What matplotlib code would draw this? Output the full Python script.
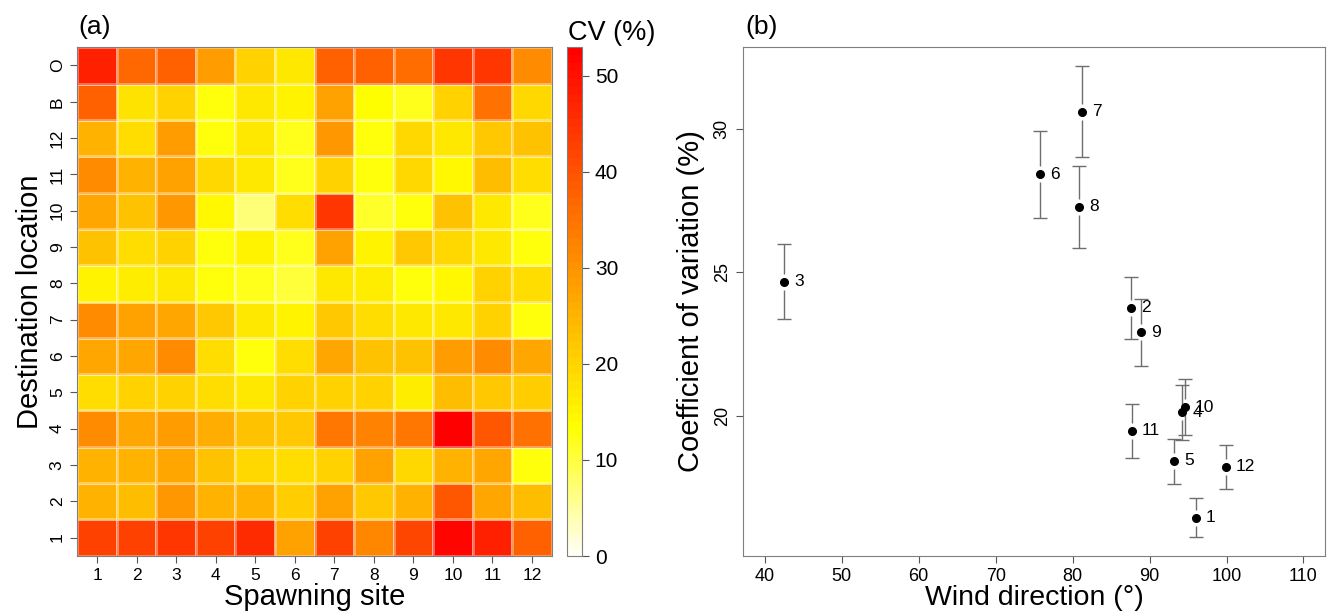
import numpy as np
import matplotlib
matplotlib.use("Agg")
import matplotlib.pyplot as plt
from matplotlib.colors import LinearSegmentedColormap

plt.rcParams['font.family'] = ['Liberation Sans', 'DejaVu Sans']

# ---------------- Panel (a) data ----------------
spawning_sites = ['1', '2', '3', '4', '5', '6', '7', '8', '9', '10', '11', '12']
destinations = ['1', '2', '3', '4', '5', '6', '7', '8', '9', '10', '11', '12', 'B', 'O']  # bottom -> top

cv_1  = [43.0, 42.4, 44.0, 43.0, 46.0, 28.0, 42.4, 31.8, 41.8, 52.0, 48.0, 38.0]
cv_2  = [25.5, 23.7, 29.3, 24.9, 25.5, 21.0, 28.0, 21.8, 25.5, 39.0, 26.8, 23.7]
cv_3  = [25.5, 24.9, 26.8, 22.4, 19.3, 18.7, 19.9, 28.0, 19.3, 25.5, 26.5, 13.0]
cv_4  = [31.2, 26.5, 28.7, 25.9, 22.4, 21.8, 34.3, 32.4, 34.3, 52.5, 39.0, 35.5]
cv_5  = [19.0, 19.9, 20.5, 18.4, 16.8, 19.9, 19.9, 19.9, 16.2, 23.7, 21.8, 21.0]
cv_6  = [26.8, 26.5, 31.2, 18.7, 13.0, 19.0, 26.8, 22.4, 22.4, 28.4, 31.2, 26.5]
cv_7  = [31.2, 28.0, 26.5, 21.8, 16.8, 15.0, 21.8, 18.7, 16.8, 16.8, 19.9, 13.0]
cv_8  = [15.0, 16.5, 17.0, 12.5, 12.0, 10.0, 16.8, 16.5, 13.0, 14.3, 19.9, 18.7]
cv_9  = [23.0, 18.7, 19.9, 13.0, 15.0, 12.0, 28.0, 15.0, 21.8, 19.3, 16.8, 12.5]
cv_10 = [26.8, 22.4, 29.3, 14.3, 7.4, 18.7, 44.0, 10.8, 13.0, 23.0, 16.8, 12.0]
cv_11 = [31.2, 25.5, 28.0, 19.3, 17.1, 12.0, 20.5, 13.0, 19.3, 14.3, 23.7, 19.0]
cv_12 = [25.5, 19.0, 28.4, 13.0, 17.1, 12.0, 29.3, 13.0, 19.3, 16.8, 21.8, 23.0]
cv_B  = [37.4, 17.4, 19.9, 12.5, 16.8, 15.6, 28.0, 13.3, 12.0, 20.5, 34.9, 19.3]
cv_O  = [48.0, 36.5, 37.4, 28.4, 19.9, 17.2, 37.4, 37.4, 35.9, 44.0, 44.7, 31.2]

cbar_ticks = [0, 10, 20, 30, 40, 50]
cv_max = 53.0

# ---------------- Panel (b) data ----------------
site_labels = ['1', '2', '3', '4', '5', '6', '7', '8', '9', '10', '11', '12']
wind_dir = [96.05, 87.58, 42.5, 94.27, 93.2, 75.75, 81.2, 80.85, 88.92, 94.62, 87.71, 99.93]
cv_mean  = [16.45, 23.77, 24.67, 20.12, 18.44, 28.42, 30.60, 27.29, 22.92, 20.30, 19.48, 18.22]
cv_upper = [17.13, 24.83, 25.99, 21.07, 19.19, 29.93, 32.19, 28.71, 24.07, 21.27, 20.42, 19.00]
cv_lower = [15.79, 22.69, 23.37, 19.17, 17.63, 26.90, 29.03, 25.86, 21.74, 19.33, 18.55, 17.44]
x_ticks = [40, 50, 60, 70, 80, 90, 100, 110]
y_ticks = [20, 25, 30]

# ---------------- figure ----------------
W, H = 1327, 615
fig = plt.figure(figsize=(W / 100, H / 100), dpi=100)

def fax(l, t, r, b):
    return fig.add_axes([l / W, 1 - b / H, (r - l) / W, (b - t) / H])

cmap = LinearSegmentedColormap.from_list(
    'heat_r', [(0.0, '#FFFFF2'), (0.25, '#FFFF00'), (1.0, '#FF0000')], N=64)

frame_col = '#7f7f7f'
tick_col = '#555555'

# Panel (a)
ax1 = fax(77.3, 47.3, 551.7, 555.7)
Z = np.array([cv_1, cv_2, cv_3, cv_4, cv_5, cv_6, cv_7, cv_8, cv_9, cv_10, cv_11, cv_12, cv_B, cv_O])
mesh = ax1.pcolormesh(np.arange(len(spawning_sites) + 1), np.arange(len(destinations) + 1), Z,
                      cmap=cmap, vmin=0, vmax=cv_max,
                      edgecolors=(1, 1, 1, 0.35), linewidth=0.8)
ax1.set_xlim(0, len(spawning_sites))
ax1.set_ylim(0, len(destinations))
ax1.set_xticks(np.arange(len(spawning_sites)) + 0.5)
ax1.set_xticklabels(spawning_sites, fontsize=12.5)
ax1.set_yticks(np.arange(len(destinations)) + 0.5)
ax1.set_yticklabels(destinations, fontsize=12.5, rotation=90, va='center')
ax1.tick_params(direction='out', length=5, color=tick_col, pad=4)
for s in ax1.spines.values():
    s.set_color(frame_col)
ax1.set_xlabel('Spawning site', fontsize=21, labelpad=0)
ax1.set_ylabel('Destination location', fontsize=21, labelpad=4)
fig.text(78 / W, 1 - 27 / H, '(a)', fontsize=19, ha='left', va='center')

# colorbar
cax = fax(566.7, 47.0, 582.3, 556.0)
cb = fig.colorbar(mesh, cax=cax, ticks=cbar_ticks)
cb.outline.set_edgecolor(frame_col)
cax.tick_params(labelsize=15, length=5, color=tick_col, pad=4)
fig.text(612 / W, 1 - 33 / H, 'CV (%)', fontsize=19.5, ha='center', va='center')

# Panel (b)
ax2 = fax(743.3, 46.7, 1325.0, 555.7)
ax2.set_xlim(37.2, 112.8)
ax2.set_ylim(15.13, 32.86)
err_col = '#6e6e6e'
gap_px = 8.0
ppu = (555.7 - 46.7) / (32.86 - 15.13)
gap = gap_px / ppu
x = np.array(wind_dir)
m = np.array(cv_mean)
up = np.array(cv_upper)
lo = np.array(cv_lower)
ax2.vlines(x, m + gap, up, color=err_col, lw=1.0)
ax2.vlines(x, lo, m - gap, color=err_col, lw=1.0)
ax2.plot(x, up, linestyle='none', marker='_', ms=9.5, mew=1.0, color=err_col)
ax2.plot(x, lo, linestyle='none', marker='_', ms=9.5, mew=1.0, color=err_col)
ax2.plot(x, m, linestyle='none', marker='o', ms=5.5, color='black')
for xi, yi, lab in zip(x, m, site_labels):
    ax2.annotate(lab, (xi, yi), xytext=(7.2, 0), textcoords='offset points',
                 ha='left', va='center', fontsize=12.5)
ax2.set_xticks(x_ticks)
ax2.set_xticklabels([str(v) for v in x_ticks], fontsize=13)
ax2.set_yticks(y_ticks)
ax2.set_yticklabels([str(v) for v in y_ticks], fontsize=13, rotation=90, va='center')
ax2.tick_params(direction='out', length=5, color=tick_col, pad=4)
for s in ax2.spines.values():
    s.set_color(frame_col)
ax2.set_xlabel('Wind direction (°)', fontsize=20.5, labelpad=0)
ax2.set_ylabel('Coefficient of variation (%)', fontsize=21, labelpad=6)
fig.text(745 / W, 1 - 27 / H, '(b)', fontsize=19, ha='left', va='center')

fig.savefig('out.png', dpi=100)
